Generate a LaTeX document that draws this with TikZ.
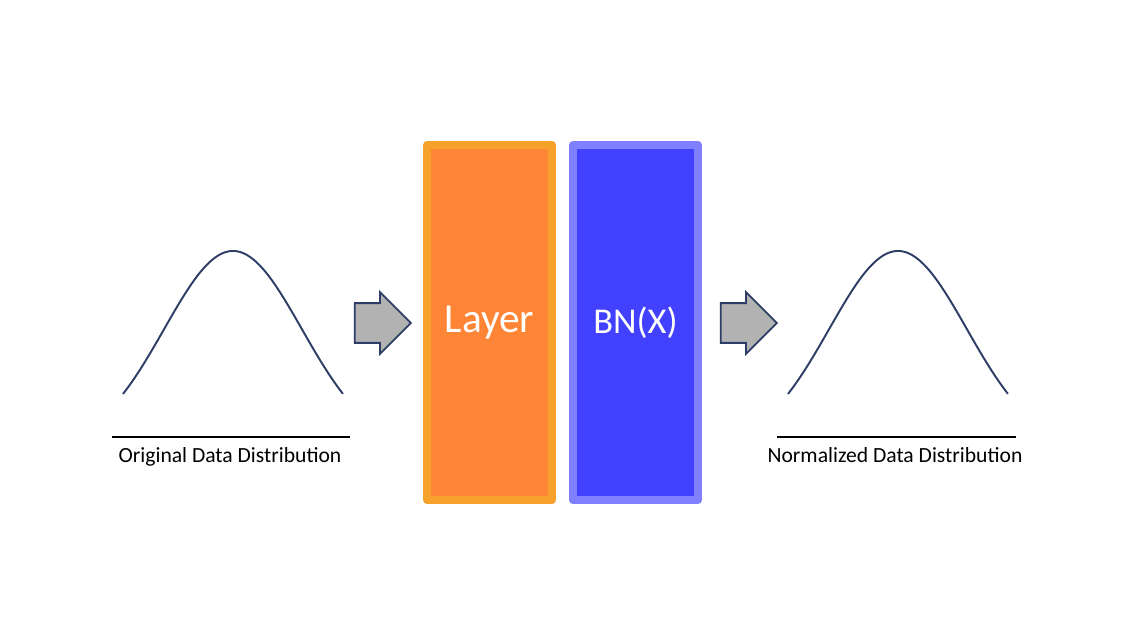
\documentclass[tikz,border=0pt]{standalone}
\usepackage{fontspec}
\setmainfont{Carlito}
\usetikzlibrary{shapes.arrows}
\definecolor{layerfill}{HTML}{FF8536}
\definecolor{layerline}{HTML}{F6A22A}
\definecolor{bnfill}{HTML}{4141FF}
\definecolor{bnline}{HTML}{8080FF}
\definecolor{curvecol}{HTML}{2E3D66}
\definecolor{arrowfill}{HTML}{B2B2B2}
\begin{document}
\begin{tikzpicture}[x=0.02cm, y=-0.02cm,
  block/.style={draw, line width=0.16cm, line join=round, minimum width=2.5cm, minimum height=7.1cm, inner sep=0pt, text=white},
  flow/.style={single arrow, draw=curvecol, fill=arrowfill, line width=1pt, inner xsep=0pt, inner ysep=0.38cm, minimum height=1.12cm, single arrow head extend=0.22cm, anchor=tip},
  bell/.style={draw=curvecol, line width=1.1pt},
  rule/.style={line width=1.7pt},
  caption/.style={font=\fontsize{12.3}{14}\selectfont, anchor=base}]
\useasboundingbox (0,0) rectangle (1145,641);
\node[block, draw=layerline, fill=layerfill, font=\fontsize{23.5}{28}\selectfont] (layer) at (489.5,322.5) {Layer};
\node[block, draw=bnline, fill=bnfill, font=\fontsize{20.7}{25}\selectfont] (bn) at (635.5,322.5) {BN(X)};
\node[flow] (inarrow) at (412,323) {};
\node[flow] (outarrow) at (778,323) {};
\draw[bell] plot[domain=-1.6:1.6, samples=80] ({233+68.75*\x}, {251+198*(1-exp(-0.5*(\x)*(\x)))});
\draw[bell] plot[domain=-1.6:1.6, samples=80] ({898+68.75*\x}, {251+198*(1-exp(-0.5*(\x)*(\x)))});
\draw[rule] (112,437) -- (350,437);
\draw[rule] (777,437) -- (1016,437);
\node[caption] (orig) at (230,462) {Original Data Distribution};
\node[caption] (norm) at (895,462) {Normalized Data Distribution};
\end{tikzpicture}
\end{document}
